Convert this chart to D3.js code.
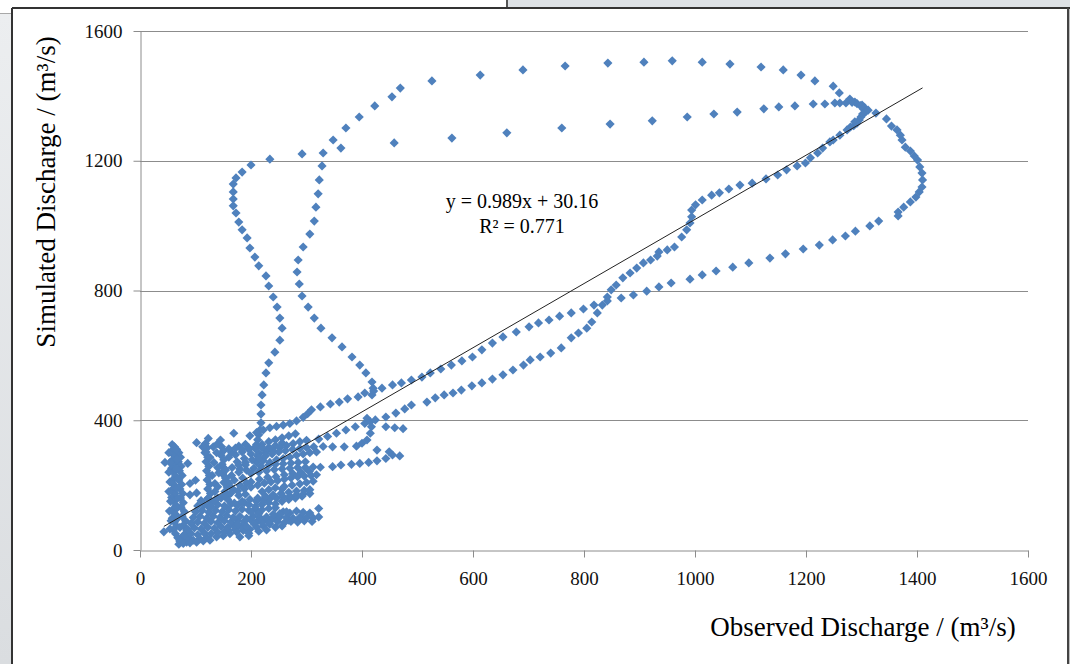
<!DOCTYPE html>
<html>
<head>
<meta charset="utf-8">
<script src="https://cdnjs.cloudflare.com/ajax/libs/d3/7.8.5/d3.min.js"></script>
<style>
  body { margin: 0; background: #fff; }
  #chart-holder svg { display: block; }
</style>
</head>
<body>
<div id="chart-holder"></div>
<script>
// every point is [observed, simulated] in m3/s

// big flood loop: left limb going up from the low-flow cloud
var loopLeftLimb = [
  [218,392],[218,419],[218,447],[220,478],[223,509],[227,546],[232,577],[243,610],[252,647],[256,684],
  [252,715],[247,749],[240,780],[232,814],[227,845],[214,876],[207,903],[198,931],[193,962],[184,987],
  [178,1011],[173,1039],[168,1061],[168,1082],[168,1104],[168,1128],[173,1147],[184,1165],[200,1187],
  [234,1205],[292,1221]
];
var loopRightLimb = [
  [418,478],[420,499],[418,518],[407,546],[396,570],[382,595],[364,626],[346,654],[326,684],[314,715],
  [303,749],[292,783],[287,820],[283,857],[285,894],[294,934],[306,974],[314,1014],[317,1057],[321,1098],
  [323,1141],[328,1184],[330,1224]
];
var peakArc = [
  [348,1264],[371,1301],[395,1335],[423,1369],[454,1397],[469,1424],[526,1446],[613,1464],[690,1480],
  [766,1492],[843,1501],[908,1504],[959,1508],[1013,1504],[1063,1498],[1119,1489],[1159,1480],[1191,1464],
  [1216,1446],[1249,1430],[1260,1409],[1279,1390],[1288,1381],[1301,1372],[1306,1363],[1305,1347],[1299,1335]
];
var returnArc = [
  [362,1239],[458,1255],[562,1270],[661,1286],[760,1301],[847,1313],[923,1323],[986,1335],[1034,1344],
  [1076,1350],[1124,1360],[1151,1366],[1180,1369],[1213,1375],[1234,1375],[1252,1378],[1261,1378],[1272,1378]
];
var crestCluster = [
  [1283,1380],[1292,1376],[1298,1370],[1303,1360],[1308,1352],[1302,1344],[1296,1326],[1292,1316],
  [1286,1308],[1312,1356]
];
var fallingLimb = [
  [1288,1320],[1280,1304],[1274,1295],[1261,1279],[1249,1264],[1243,1258],[1230,1239],[1221,1224],
  [1208,1209],[1199,1193],[1184,1184],[1165,1172],[1149,1156],[1128,1144],[1103,1131],[1081,1125],
  [1061,1113],[1044,1101],[1030,1094],[1013,1079],[1001,1064],[994,1048],[994,1027],[991,1008],[985,987],
  [976,965],[963,934],[950,925],[935,919],[932,906],[920,894],[907,885],[895,869],[883,854],[870,839],
  [858,817],[849,802],[842,780],[833,755],[824,731],[814,703],[805,684],[790,669],[777,654],[759,623],
  [740,607],[721,595],[703,586],[691,570],[672,555],[654,540],[635,527],[616,515],[598,506],[579,493],
  [564,484],[548,478],[532,469],[517,456],[489,447],[477,435],[461,422],[443,410],[424,401],[405,390],
  [388,380],[371,370],[354,360],[338,350],[322,342]
];
var risingBand = [
  [309,432],[325,441],[343,450],[359,456],[374,466],[393,472],[405,484],[421,490],[436,499],[455,509],
  [471,515],[489,524],[508,533],[523,546],[542,558],[561,570],[580,583],[599,595],[616,617],[635,638],
  [654,657],[678,672],[701,688],[718,700],[737,709],[756,721],[777,731],[799,743],[818,755],[842,768],
  [867,777],[889,786],[913,798],[935,811],[957,823],[991,835],[1013,848],[1038,860],[1068,872],[1097,885],
  [1135,900],[1163,913],[1195,928],[1224,940],[1248,956],[1271,968],[1289,983],[1315,999],[1331,1014],
  [1366,1030],[1366,1042],[1376,1057],[1388,1073],[1398,1088],[1404,1104],[1409,1119],[1410,1141],
  [1409,1162],[1405,1181],[1401,1202],[1395,1215],[1388,1230],[1379,1242],[1373,1264],[1370,1279],
  [1364,1295],[1354,1307],[1345,1329],[1326,1347]
];

// low-flow cloud
var clusterColumns = [
  [58,325],[62,318],[57,305],[61,292],[59,278],[63,266],[57,252],[60,240],[64,228],[58,214],[62,200],
  [59,188],[63,175],[57,162],[61,150],[65,138],[59,125],[63,112],[58,98],[62,86],[66,74],[60,62],[64,50],
  [68,38],[72,28],[70,18],
  [70,300],[73,286],[69,272],[74,258],[71,244],[76,230],[70,216],[75,202],[72,188],[77,174],[73,160],
  [78,146],[74,132],[80,118],[76,104],[82,90],[78,76],[84,62],[80,48],[88,36],[84,24],
  [52,300],[54,270],[52,240],[54,210],[52,180],[55,150],[53,120],[56,90],[54,65],
  [66,310],[67,280],[66,250],[67,220],[66,190],[68,160],[67,130],[69,100],[72,70],[76,40],
  [118,328],[121,315],[117,300],[122,286],[119,272],[124,258],[120,244],[125,230],[121,216],[126,202],
  [122,188],[127,174],[123,160],[128,146],[124,132],
  [147,318],[150,305],[146,292],[151,278],[148,264],[153,250],[149,236],[155,222],[151,208],[157,194],
  [153,180],[159,168],
  [113,318],[119,302],[126,286],[133,270],[140,254],[147,238],[154,222],[160,206],[166,190],
  [216,370],[214,355],[212,340],[210,325]
];
var clusterBlob = [
  [72,28],[84,32],[96,30],[108,34],[120,38],
  [78,20],[90,22],[102,24],[114,28],[126,30],[138,40],[150,44],[162,50],[174,56],[186,60],[198,64],
  [210,70],[222,74],[234,80],[180,40],[196,44],[160,60],[172,64],[196,52],[214,58],[228,62],[244,70],[256,74],
  [80,46],[92,50],[104,47],[116,52],[128,50],[140,54],[152,56],
  [86,64],[98,68],[110,65],[122,70],[134,67],[146,72],[158,70],[170,74],[182,72],
  [92,82],[104,86],[116,82],[128,88],[140,84],[152,90],[164,86],[176,92],[188,88],[200,92],[212,90],
  [224,94],[236,92],[246,96],[260,84],[272,88],[284,86],[296,90],[310,88],
  [176,80],[190,76],[206,80],[220,84],[232,86],[248,88],[268,92],
  [96,100],[108,104],[120,98],[132,104],[144,100],[156,106],[168,100],[180,104],[192,98],[204,104],
  [216,100],[228,102],[240,98],[252,102],[264,100],[276,98],[288,101],[300,100],[312,99],[322,102],[322,128],
  [100,118],[112,122],[124,116],[136,122],[148,118],[160,124],[172,120],[184,126],[196,122],[208,126],
  [220,124],[232,128],[244,130],[200,118],[214,112],[258,118],[270,114],[282,120],[294,116],[306,114],
  [240,110],[252,112],[264,118],
  [104,136],[116,140],[128,134],[140,140],[152,136],[164,142],[176,138],[188,146],
  [196,140],[208,134],[220,140],[232,146],[244,142],[256,150],[268,156],[280,160],[292,166],
  [110,152],[122,158],[134,152],[146,160],[158,156],
  [90,170],[102,176],[178,168],[190,172],
  [90,205],[100,215],[135,205],[170,215],[185,222],[245,226],[260,232],[275,236],[290,240],[305,242]
];
var clusterFill = [
  [135,180],[140,195],[165,230],[178,240],[192,246],[205,252],[218,258],[232,262],[244,264],[258,266],
  [272,268],[285,270],[298,272],[200,210],[215,218],[230,224],[180,200],[192,206],
  [138,300],[132,318],[140,328],[165,300],[178,320],[190,326],[232,316],[244,322],[256,330],[215,298],
  [228,306],[260,196],[274,200],[288,204],[300,208],[312,212],[220,180],[232,186],[244,192],[256,188],
  [210,150],[222,154],[234,158],[246,160],[258,164],[270,166],[282,170],[294,172],[306,174]
];
var clusterFingers = [
  [140,160],[152,168],[164,176],[176,182],[188,188],[200,194],[212,200],[224,206],[236,210],[248,214],
  [260,218],[272,222],[284,226],[296,228],[308,230],[318,232],
  [170,145],[184,150],[198,156],[212,160],[226,166],[240,170],[254,174],[268,178],[282,182],[296,184],[306,186],
  [160,286],[172,294],[184,302],[196,310],[208,318],[220,326],[232,334],[244,340],[256,346],[268,352],[280,358],
  [200,236],[214,240],[228,244],[242,248],[256,250],[270,252],[284,254],[298,254],[312,256],[325,255],
  [180,250],[190,262],[175,272],[188,282],[200,296],[212,290],[226,300],[240,306],[252,316],[264,322],
  [276,328],[288,334],[300,338],
  [210,270],[222,276],[234,270],[246,278],[258,282],[270,286],[282,292],[294,296],[306,300],[318,302],
  [130,230],[142,238],[154,246],[166,254],[178,262],[190,270],[202,278],[214,284],[226,290],[238,296],
  [250,302],[262,306],[275,310],[288,313],[300,316],[313,318],[330,319],[347,318],[368,318],[390,320],
  [400,329],[409,339],[415,360],[417,380],[415,395],[409,406],
  [347,257],[362,262],[381,264],[396,267],[412,270],[427,275],[443,282],[455,293],[468,290],
  [160,312],[172,314],[184,310],[196,315],[208,312],[220,316],
  [198,352],[210,362],[222,370],[234,377],[246,381],[258,385],[270,390],[282,398],[294,409],[302,420]
];
var clusterStray = [
  [45,270],[43,56],[86,267],[102,331],[123,344],[145,339],[169,360],[192,72],
  [443,380],[459,377],[474,374],[427,308],[449,303]
];

var xTicks = [0, 200, 400, 600, 800, 1000, 1200, 1400, 1600];
var yTicks = [0, 400, 800, 1200, 1600];
var fitSlope = 0.989;
var fitIntercept = 30.16;
var fitR2 = 0.771;

var width = 1070;
var height = 664;

var x = d3.scaleLinear().domain([0, 1600]).range([140, 1028]);
var y = d3.scaleLinear().domain([0, 1600]).range([550, 31]);

var svg = d3.select("#chart-holder")
  .append("svg")
  .attr("width", width)
  .attr("height", height)
  .style("font-family", "'Liberation Serif', 'DejaVu Serif', serif");

// window chrome around the chart
var defs = svg.append("defs");
var grad = defs.append("linearGradient").attr("id", "sideGrad").attr("x1", 0).attr("x2", 0).attr("y1", 0).attr("y2", 1);
grad.append("stop").attr("offset", "0%").attr("stop-color", "#eceef0");
grad.append("stop").attr("offset", "100%").attr("stop-color", "#dadde0");

svg.append("rect").attr("width", width).attr("height", height).attr("fill", "#fff");
svg.append("rect").attr("x", 0).attr("y", 13).attr("width", 12).attr("height", height - 13).attr("fill", "url(#sideGrad)");
svg.append("line").attr("x1", 0).attr("x2", 12).attr("y1", 13.5).attr("y2", 13.5).attr("stroke", "#a8a8a8");
svg.append("rect").attr("x", 508).attr("y", 0).attr("width", width - 508).attr("height", 8).attr("fill", "#dde1e5");
svg.append("line").attr("x1", 507).attr("x2", 507).attr("y1", 0).attr("y2", 8).attr("stroke", "#555").attr("stroke-width", 2);
svg.append("rect").attr("x", 1067).attr("y", 8).attr("width", 3).attr("height", height - 8).attr("fill", "#bdbdbd");
svg.append("line").attr("x1", 12).attr("x2", width).attr("y1", 8).attr("y2", 8).attr("stroke", "#333").attr("stroke-width", 2);
svg.append("line").attr("x1", 12).attr("x2", 12).attr("y1", 8).attr("y2", height).attr("stroke", "#333").attr("stroke-width", 2);
svg.append("line").attr("x1", 1068).attr("x2", 1068).attr("y1", 8).attr("y2", height).attr("stroke", "#444").attr("stroke-width", 2);

// gridlines
svg.append("g")
  .selectAll("line")
  .data(yTicks.filter(function(t) { return t > 0; }))
  .enter()
  .append("line")
  .attr("x1", x(0))
  .attr("x2", x(1600))
  .attr("y1", function(d) { return Math.round(y(d)) + 0.5; })
  .attr("y2", function(d) { return Math.round(y(d)) + 0.5; })
  .attr("stroke", "#8c8c8c")
  .attr("stroke-width", 1);

var xAxis = svg.append("g")
  .attr("transform", "translate(0," + (Math.round(y(0)) + 0.5) + ")")
  .call(d3.axisBottom(x).tickValues(xTicks).tickFormat(d3.format("d")).tickSize(7).tickSizeOuter(0).tickPadding(14));
var yAxis = svg.append("g")
  .attr("transform", "translate(" + (Math.round(x(0)) + 0.5) + ",0)")
  .call(d3.axisLeft(y).tickValues(yTicks).tickFormat(d3.format("d")).tickSize(7).tickSizeOuter(0).tickPadding(11));

svg.selectAll(".domain, .tick line").attr("stroke", "#8c8c8c");
svg.selectAll(".tick text")
  .attr("fill", "#111")
  .style("font-size", "19px")
  .style("font-family", "'Liberation Serif', serif");

// points
var allPoints = [].concat(clusterColumns, clusterBlob, clusterFill, clusterFingers, clusterStray,
  loopLeftLimb, loopRightLimb, peakArc, returnArc, crestCluster, fallingLimb, risingBand);

var marker = d3.symbol().type(d3.symbolSquare).size(42);
svg.append("g")
  .selectAll("path")
  .data(allPoints)
  .enter()
  .append("path")
  .attr("d", marker)
  .attr("transform", function(d) { return "translate(" + x(d[0]) + "," + y(d[1]) + ") rotate(45)"; })
  .attr("fill", "#4f81bd");

// linear trendline over the observed range
var obsExtent = d3.extent(allPoints, function(d) { return d[0]; });
svg.append("line")
  .attr("x1", x(obsExtent[0]))
  .attr("y1", y(fitSlope * obsExtent[0] + fitIntercept))
  .attr("x2", x(obsExtent[1]))
  .attr("y2", y(fitSlope * obsExtent[1] + fitIntercept))
  .attr("stroke", "#222")
  .attr("stroke-width", 1);

svg.append("text")
  .attr("x", 522)
  .attr("y", 208)
  .attr("text-anchor", "middle")
  .style("font-size", "20px")
  .text("y = " + fitSlope + "x + " + fitIntercept);
svg.append("text")
  .attr("x", 522)
  .attr("y", 233)
  .attr("text-anchor", "middle")
  .style("font-size", "20px")
  .text("R\u00b2 = " + fitR2);

// axis titles
svg.append("text")
  .attr("x", 863)
  .attr("y", 636)
  .attr("text-anchor", "middle")
  .style("font-size", "27px")
  .text("Observed Discharge / (m\u00b3/s)");
svg.append("text")
  .attr("transform", "translate(55,192) rotate(-90)")
  .attr("text-anchor", "middle")
  .style("font-size", "27px")
  .text("Simulated Discharge / (m\u00b3/s)");
</script>
</body>
</html>
